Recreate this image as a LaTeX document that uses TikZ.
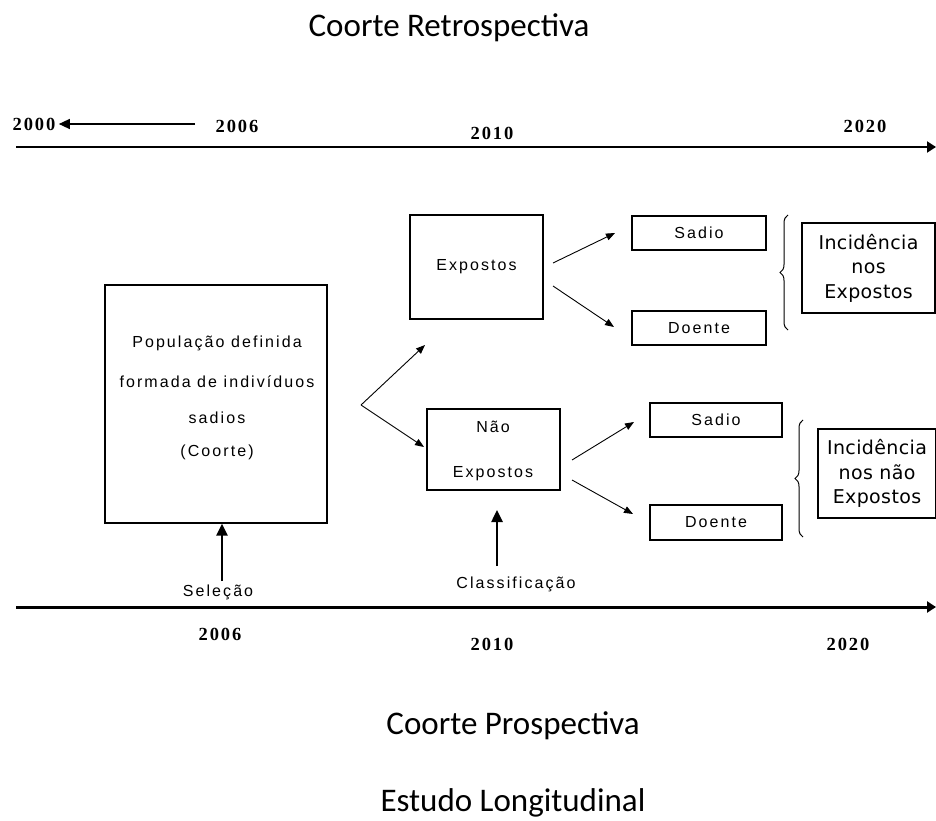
\documentclass[tikz,border=0pt]{standalone}
\usepackage{fontspec}
\setmainfont{Liberation Sans}
\newfontfamily\titlefont{Carlito}
\newfontfamily\boxfont[LetterSpace=13]{Liberation Sans}
\newfontfamily\yearfont[LetterSpace=10]{Liberation Serif}
\newfontfamily\incfont[LetterSpace=2]{DejaVu Sans}
\usetikzlibrary{arrows.meta,decorations.pathreplacing}
\begin{document}
\begin{tikzpicture}[x=1pt,y=-1pt,
  title/.style={font=\titlefont\fontsize{33}{38}\selectfont},
  year/.style={font=\yearfont\bfseries\fontsize{18.5}{21}\selectfont},
  lbl/.style={font=\boxfont\fontsize{16}{19}\selectfont},
  box/.style={draw, line width=1.2pt, inner sep=0pt},
  incbox/.style={draw, line width=1.2pt, inner sep=0pt, align=center,
    font=\incfont\fontsize{19}{24.5}\selectfont},
  thin arrow/.style={-{Triangle[length=9pt,width=7pt]}, line width=0.9pt},
  thick arrow/.style={-{Triangle[length=12pt,width=11pt]}, line width=2.5pt},
  axis/.style={-{Triangle[length=9pt,width=11pt]}},
  brace/.style={decorate, decoration={brace, amplitude=8pt}, line width=1pt}]
\useasboundingbox (0,0) rectangle (936,821);

% titles
\node[title] (ttop) at (449,28) {Coorte Retrospectiva};
\node[title] (tpro) at (513,726) {Coorte Prospectiva};
\node[title] (tlon) at (513,803) {Estudo Longitudinal};

% upper time axis
\coordinate (ua) at (16,147);
\coordinate (ub) at (936,147);
\draw[axis, line width=2pt] (ua) -- (ub);
\node[year] (y2000) at (34,124) {2000};
\node[year] (y2006a) at (237,126) {2006};
\node[year] (y2010a) at (492,133) {2010};
\node[year] (y2020a) at (865,126) {2020};
\coordinate (back) at (195,124);
\draw[-{Triangle[length=11pt,width=10pt]}, line width=1.3pt] (back) -- (y2000.east);

% lower time axis
\coordinate (la) at (16,607);
\coordinate (lb) at (936,607);
\draw[axis, line width=3pt] (la) -- (lb);
\node[year] (y2006b) at (220,634) {2006};
\node[year] (y2010b) at (492,644) {2010};
\node[year] (y2020b) at (848,644) {2020};

% cohort box
\node[box, minimum width=222pt, minimum height=238pt] (pop) at (216,404) {};
\node[lbl] (p1) at (217,343) {População definida};
\node[lbl] (p2) at (217,382) {formada de indivíduos};
\node[lbl] (p3) at (217,418) {sadios};
\node[lbl] (p4) at (217,452) {(Coorte)};

% exposure groups
\node[box, minimum width=133pt, minimum height=104pt, lbl] (exp) at (476.5,267) {Expostos};
\node[box, minimum width=133pt, minimum height=81pt] (nexp) at (493.5,449.5) {};
\node[lbl] (n1) at (493,427) {Não};
\node[lbl] (n2) at (493,474) {Expostos};

% outcomes
\node[box, minimum width=134pt, minimum height=34pt, lbl] (s1) at (699,233) {Sadio};
\node[box, minimum width=134pt, minimum height=34pt, lbl] (d1) at (699,328) {Doente};
\node[box, minimum width=132pt, minimum height=34pt, lbl] (s2) at (716,420) {Sadio};
\node[box, minimum width=132pt, minimum height=35pt, lbl] (d2) at (716,522.5) {Doente};

% incidence
\node[incbox, minimum width=133pt, minimum height=90pt] (i1) at (868.5,268) {Incidência\\nos\\Expostos};
\node[incbox, minimum width=118pt, minimum height=89pt] (i2) at (877,473.5) {Incidência\\nos não\\Expostos};

% branching arrows
\coordinate (fork) at (361,405);
\coordinate (e1) at (553,263);
\coordinate (e2) at (553,286);
\coordinate (f1) at (572,460);
\coordinate (f2) at (572,480);
\draw[thin arrow] (fork) -- (425,345);
\draw[thin arrow] (fork) -- (424,447);
\draw[thin arrow] (e1) -- (615,233);
\draw[thin arrow] (e2) -- (614,327);
\draw[thin arrow] (f1) -- (634,422);
\draw[thin arrow] (f2) -- (633,514);

% braces
\draw[brace] (788,330) -- (788,215);
\draw[brace] (803,537) -- (803,420);

% selection and classification
\node[lbl] (sel) at (218,592) {Seleção};
\node[lbl] (cls) at (516,584) {Classificação};
\coordinate (sa) at (222,581);
\coordinate (ca) at (497,566);
\draw[thick arrow] (sa) -- (pop.south -| sa);
\draw[thick arrow] (ca) -- (497,510);
\end{tikzpicture}
\end{document}
